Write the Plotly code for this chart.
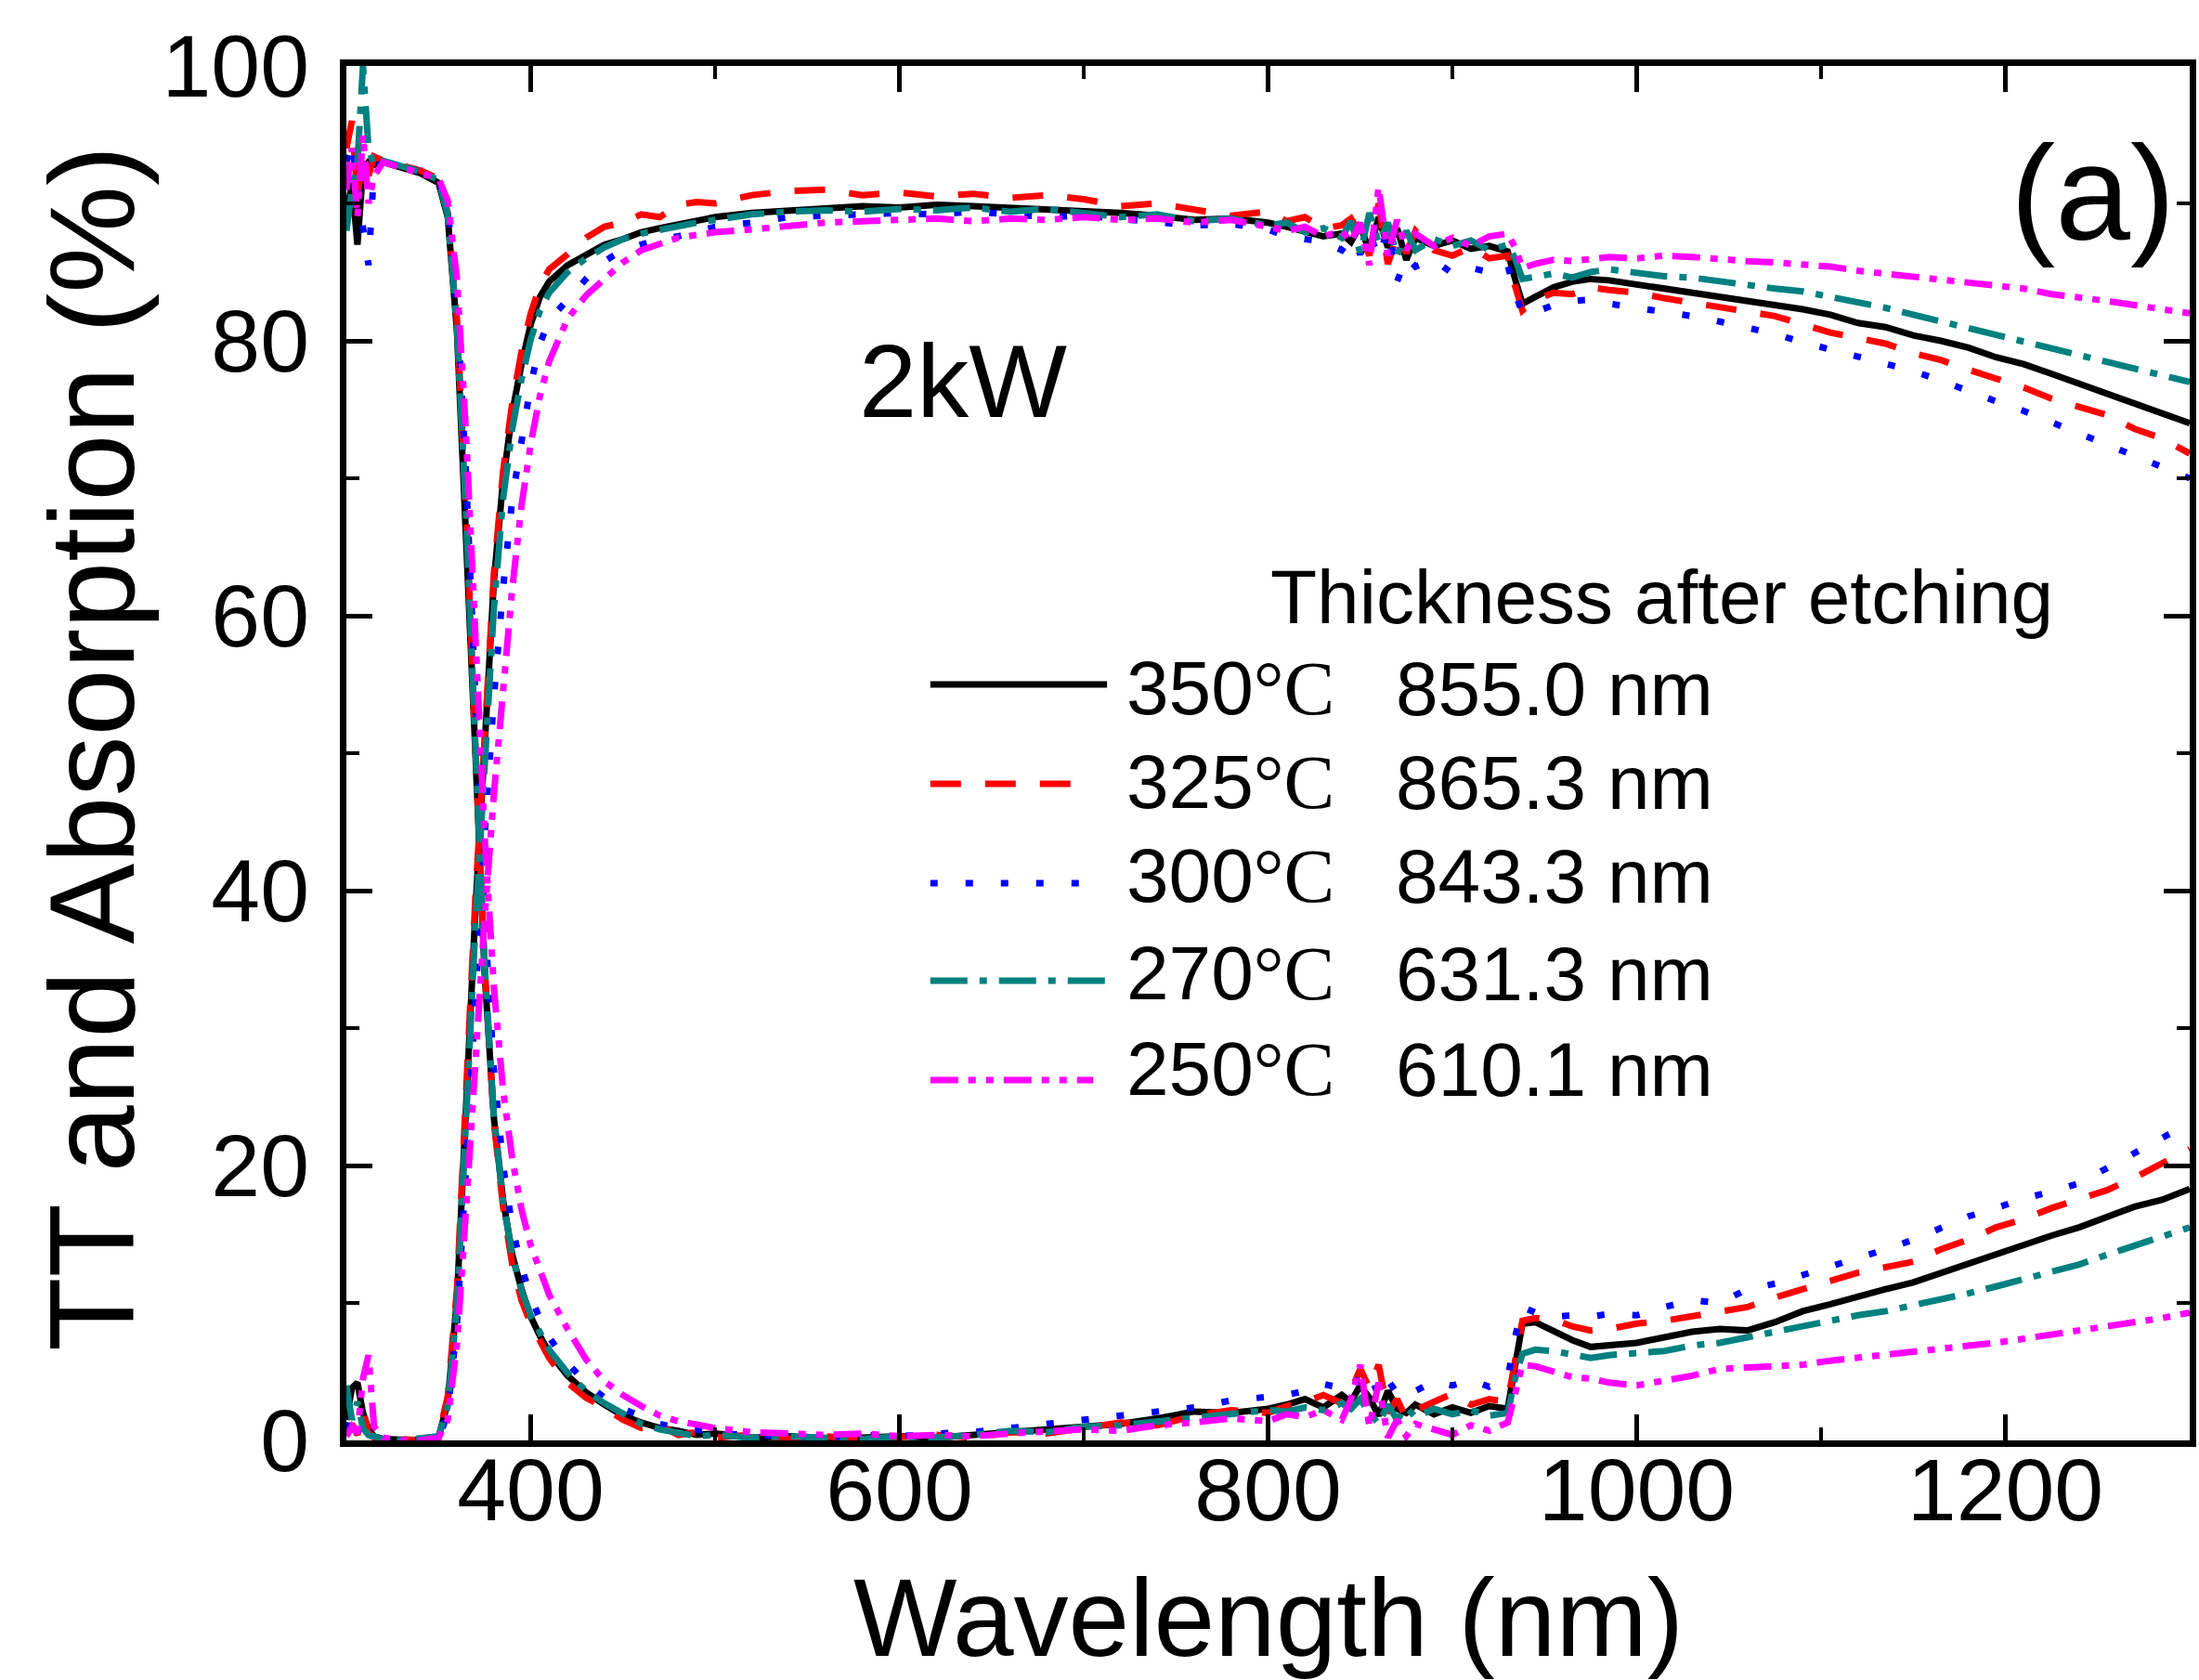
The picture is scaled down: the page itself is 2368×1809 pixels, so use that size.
import plotly.graph_objects as go

# Wavelength grid (nm) shared by every spectrum
wavelength = [300, 303, 306, 309, 312, 315, 320, 330, 340, 350,
              355, 360, 365, 370, 375, 380, 385, 390, 395, 400,
              405, 410, 420, 430, 440, 450, 460, 470, 480, 490,
              500, 520, 540, 560, 580, 600, 620, 640, 660, 680,
              700, 720, 740, 760, 780, 800, 810, 820, 830, 840,
              845, 850, 855, 860, 865, 870, 875, 880, 890, 900,
              910, 920, 930, 934, 938, 945, 955, 965, 975, 985,
              1000, 1015, 1030, 1045, 1060, 1075, 1090, 1105, 1120, 1135,
              1150, 1165, 1180, 1195, 1210, 1225, 1240, 1255, 1270, 1285, 1300]

# Total transmittance (%)
tt_350 = [1.5, 3.8, 4.2, 2.0, 0.8, 0.3, 0.1, 0.0, 0.0, 0.2,
          2.8, 10.3, 25.0, 38.6, 50.5, 62.5, 69.8, 74.8, 78.3, 81.2,
          83.2, 84.3, 85.5, 86.3, 87.0, 87.4, 87.9, 88.2, 88.5, 88.8,
          89.0, 89.3, 89.5, 89.6, 89.8, 89.7, 89.9, 89.8, 89.7, 89.6,
          89.5, 89.3, 89.1, 88.8, 88.9, 88.6, 88.3, 88.0, 87.6, 87.8,
          87.2, 88.4, 86.5, 89.0, 86.8, 88.2, 85.9, 87.5, 86.9, 87.3,
          86.7, 86.9, 86.5, 84.5, 82.7, 83.2, 83.9, 84.3, 84.5, 84.4,
          84.1, 83.9, 83.5, 83.3, 82.9, 82.7, 82.3, 81.9, 81.3, 81.0,
          80.4, 80.0, 79.5, 78.8, 78.3, 77.6, 76.9, 76.1, 75.4, 74.8, 74.0]
tt_325 = [0.5, 1.2, 0.4, 2.2, 0.5, 0.2, 0.0, 0.1, 0.0, 0.3,
          3.2, 11.0, 25.5, 39.5, 51.0, 63.0, 70.5, 75.5, 79.2, 82.0,
          84.0, 85.2, 86.3, 87.5, 88.3, 88.6, 89.2, 89.0, 89.9, 90.1,
          90.0, 90.6, 90.9, 91.0, 90.6, 90.8, 90.5, 90.7, 90.4, 90.6,
          90.3, 89.8, 90.0, 89.6, 89.1, 89.4, 88.7, 89.0, 88.2, 88.4,
          88.9, 87.8, 86.2, 90.0, 85.6, 87.6, 86.4, 88.0, 86.6, 86.2,
          86.8, 86.0, 86.2, 84.0, 82.2, 83.0, 83.5, 83.4, 83.9, 83.7,
          83.5, 83.1, 82.8, 82.5, 82.1, 81.8, 81.2, 80.6, 80.2, 79.8,
          79.1, 78.6, 77.9, 77.3, 76.6, 75.8, 75.2, 74.6, 73.6, 72.9, 71.8]
tt_300 = [0.8, 2.0, 0.6, 1.1, 0.3, 0.1, 0.0, 0.0, 0.1, 0.1,
          2.0, 8.5, 20.0, 33.0, 44.0, 54.0, 62.0, 68.5, 73.0, 76.8,
          79.8, 81.5, 83.0, 84.5, 85.8, 86.6, 87.0, 87.4, 87.6, 87.9,
          88.3, 88.6, 89.0, 89.1, 89.2, 89.3, 89.2, 89.4, 89.2, 89.0,
          89.1, 88.9, 88.6, 88.4, 88.5, 88.1, 87.6, 87.4, 87.2, 86.6,
          87.5, 86.3, 87.9, 86.0, 88.2, 84.3, 86.1, 85.4, 85.9, 84.9,
          85.3, 85.0, 85.5, 83.5, 82.0, 82.1, 82.6, 82.9, 83.0, 82.7,
          82.4, 82.2, 81.8, 81.4, 81.0, 80.5, 79.9, 79.4, 78.9, 78.4,
          77.8, 77.1, 76.3, 75.6, 74.9, 74.1, 73.2, 72.4, 71.6, 70.8, 70.0]
tt_270 = [4.0, 1.5, 2.8, 0.9, 0.4, 0.3, 0.1, 0.0, 0.1, 0.3,
          2.5, 9.8, 23.5, 37.5, 49.0, 60.5, 68.5, 73.6, 77.2, 80.1,
          82.2, 83.5, 85.0, 86.0, 86.8, 87.4, 87.8, 88.1, 88.4, 88.6,
          88.8, 89.2, 89.4, 89.5, 89.4, 89.6, 89.5, 89.7, 89.4, 89.6,
          89.3, 89.0, 89.2, 88.7, 88.9, 88.4, 88.6, 87.9, 88.2, 87.5,
          88.7, 86.4, 89.3, 87.1, 88.6, 86.2, 88.0, 86.6, 87.4, 86.9,
          87.3, 86.6, 87.0, 86.0, 84.5, 84.7, 84.9, 84.6, 85.0, 85.2,
          84.9, 84.7, 84.6, 84.3, 84.1, 83.8, 83.6, 83.2, 82.9, 82.4,
          81.9, 81.4, 80.9, 80.5, 80.0, 79.5, 79.0, 78.5, 78.0, 77.5, 77.0]
tt_250 = [0.3, 1.0, 0.5, 4.5, 6.2, 1.0, 0.2, 0.0, 0.0, 0.2,
          1.5, 7.0, 17.0, 28.0, 38.0, 47.0, 55.0, 62.0, 68.0, 72.5,
          76.0, 78.5, 81.6, 83.3, 84.5, 85.7, 86.6, 87.1, 87.5, 87.7,
          87.9, 88.1, 88.4, 88.6, 88.7, 88.8, 88.9, 88.7, 88.9, 88.8,
          89.0, 88.8, 88.9, 88.6, 88.8, 88.3, 88.0, 88.3, 87.6, 88.0,
          87.2, 88.6, 85.5, 91.2, 86.2, 88.8, 86.6, 87.8, 86.9, 87.5,
          86.9, 87.6, 87.8, 86.8, 85.3, 85.6, 85.9, 85.8, 86.0, 86.1,
          86.0, 86.2, 86.1, 85.9, 85.8, 85.7, 85.6, 85.4, 85.1, 84.9,
          84.7, 84.5, 84.3, 84.0, 83.8, 83.4, 83.2, 82.9, 82.6, 82.3, 82.0]

# Absorption (%)
ab_350 = [89.0, 91.5, 87.0, 92.5, 93.0, 92.8, 93.0, 92.6, 92.2, 91.5,
          89.0, 80.7, 66.0, 50.0, 34.0, 23.5, 17.5, 13.5, 11.0, 9.0,
          7.6, 6.4, 4.7, 3.5, 2.6, 1.8, 1.3, 0.9, 0.7, 0.4,
          0.5, 0.2, 0.3, 0.1, 0.2, 0.3, 0.2, 0.4, 0.5, 0.8,
          1.0, 1.2, 1.6, 2.1, 2.0, 2.3, 2.6, 3.0, 2.4, 3.3,
          2.8, 4.0, 3.1, 1.8, 3.6, 2.3, 2.0, 2.6, 1.9, 2.4,
          2.0, 2.5, 2.3, 5.5, 8.5, 8.6, 7.9, 7.3, 6.8, 6.9,
          7.1, 7.5, 7.9, 8.1, 8.0, 8.6, 9.4, 9.9, 10.5, 11.0,
          11.5, 12.2, 12.9, 13.6, 14.2, 14.9, 15.5, 16.2, 17.0, 17.5, 18.3]
ab_325 = [94.0, 96.0, 90.5, 93.5, 92.0, 93.4, 93.1, 92.7, 92.4, 91.8,
          89.3, 81.5, 67.5, 50.5, 34.5, 23.2, 17.0, 12.8, 10.2, 8.5,
          7.3, 6.0, 4.2, 3.1, 2.4, 1.5, 0.9, 1.1, 0.4, 0.6,
          0.2, 0.4, 0.1, 0.3, 0.1, 0.2, 0.4, 0.2, 0.6, 0.5,
          0.9, 1.3, 1.1, 1.8, 2.2, 2.0, 2.5, 2.8, 3.3, 2.7,
          3.6, 5.2, 3.8, 5.5, 2.0, 3.0, 1.6, 2.2, 2.8, 3.4,
          2.6, 3.0, 2.8, 6.0, 8.7, 8.9, 8.8, 8.3, 8.0, 8.1,
          8.5, 8.7, 9.0, 9.3, 9.7, 10.4, 11.0, 11.6, 12.2, 12.6,
          13.0, 13.9, 14.6, 15.5, 16.1, 16.9, 17.5, 18.2, 19.1, 20.1, 21.2]
ab_300 = [93.0, 94.5, 91.0, 88.5, 85.5, 92.5, 93.0, 92.7, 92.3, 91.6,
          89.6, 82.5, 70.0, 54.0, 38.0, 27.0, 20.0, 15.5, 12.6, 10.5,
          8.8, 7.5, 5.6, 4.2, 3.1, 2.3, 1.7, 1.2, 0.9, 0.8,
          0.5, 0.4, 0.3, 0.2, 0.4, 0.3, 0.5, 0.6, 0.9, 1.2,
          1.4, 1.7, 2.0, 2.4, 2.9, 3.1, 3.3, 3.6, 4.1, 3.8,
          4.6, 4.2, 5.0, 3.2, 4.4, 3.4, 3.9, 3.6, 4.3, 4.0,
          4.4, 3.9, 4.5, 7.5, 9.7, 9.3, 9.0, 9.1, 9.0, 9.2,
          9.1, 9.7, 10.2, 10.0, 11.0, 11.4, 12.0, 12.6, 13.3, 13.9,
          14.6, 15.4, 16.3, 16.9, 17.6, 18.1, 18.7, 19.8, 20.9, 22.0, 23.1]
ab_270 = [88.0, 91.0, 93.0, 100.0, 94.0, 92.8, 93.1, 92.7, 92.3, 91.7,
          89.2, 81.0, 67.2, 50.5, 34.6, 23.6, 17.4, 13.5, 10.9, 9.1,
          7.8, 6.6, 4.9, 3.6, 2.7, 1.9, 1.2, 0.8, 0.5, 0.3,
          0.4, 0.2, 0.3, 0.2, 0.1, 0.3, 0.2, 0.4, 0.7, 0.6,
          1.0, 1.1, 1.4, 1.7, 2.0, 2.2, 2.1, 2.4, 2.2, 2.7,
          2.3, 3.0, 2.0, 1.2, 2.6, 1.5, 2.4, 1.7, 2.3, 1.9,
          2.2, 1.8, 2.0, 4.5, 6.3, 6.6, 6.5, 6.2, 6.0, 6.2,
          6.3, 6.5, 6.9, 7.1, 7.5, 7.9, 8.4, 8.8, 9.1, 9.4,
          9.8, 10.2, 10.7, 11.2, 11.7, 12.3, 12.8, 13.5, 14.2, 14.8, 15.5]
ab_250 = [91.0, 94.0, 89.0, 95.0, 90.0, 92.0, 93.0, 92.6, 92.3, 91.8,
          90.2, 84.5, 73.0, 58.0, 44.0, 33.0, 25.5, 20.5, 16.8, 14.2,
          12.3, 10.6, 8.1, 5.9, 4.3, 3.3, 2.5, 1.8, 1.4, 1.1,
          0.9, 0.6, 0.5, 0.4, 0.5, 0.3, 0.4, 0.3, 0.5, 0.6,
          0.8, 0.7, 1.1, 1.3, 1.6, 1.4, 1.9, 1.7, 2.2, 1.5,
          3.0, 5.5, 1.0, 4.2, 0.2, 1.5, 0.3, 1.2, 0.8, 0.4,
          1.1, 0.7, 1.3, 3.5, 5.5, 5.4, 5.0, 4.6, 4.5, 4.2,
          4.0, 4.3, 4.7, 5.2, 5.3, 5.4, 5.5, 5.8, 6.0, 6.3,
          6.5, 6.7, 6.8, 7.1, 7.4, 7.7, 8.0, 8.3, 8.5, 8.9, 9.3]

temperatures = ["350", "325", "300", "270", "250"]
thicknesses = ["855.0 nm", "865.3 nm", "843.3 nm", "631.3 nm", "610.1 nm"]
tt_series = [tt_350, tt_325, tt_300, tt_270, tt_250]
ab_series = [ab_350, ab_325, ab_300, ab_270, ab_250]

colors = ["#000000", "#FF0000", "#0000FF", "#008080", "#FF00FF"]
dashes = ["solid", "33px,26px", "8px,30px", "40px,13px,8px,13px",
          "30px,11px,8px,11px,8px,11px"]
LW = 7

FONT = "Liberation Sans, Arial, sans-serif"
SERIF = "Liberation Serif, Times New Roman, serif"

fig = go.Figure()
for tt, ab, col, dsh, t in zip(tt_series, ab_series, colors, dashes, temperatures):
    for ys in (tt, ab):
        fig.add_trace(go.Scatter(
            x=wavelength, y=ys, mode="lines",
            line=dict(color=col, width=LW, dash=dsh),
            name=t + "°C", showlegend=False, hoverinfo="skip"))

# Plot area geometry (pixels)
W, H = 2368, 1809
ML, MR, MT, MB = 373, 3, 71, 258
pw = W - ML - MR
ph = H - MT - MB


def px(xp):
    return (xp - ML) / pw


def py(yp):
    return (H - MB - yp) / ph


annotations = []
shapes = []

# Hand-built legend
annotations.append(dict(
    x=px(1370), y=py(642), xref="paper", yref="paper", xanchor="left",
    yanchor="middle", showarrow=False, text="Thickness after etching",
    font=dict(family=FONT, size=82, color="black")))
line_rows = [737, 844, 951, 1056, 1163]
text_rows = [741, 842, 943, 1048, 1151]
line_ends = [1195, 1167, 1167, 1195, 1180]
for i in range(5):
    shapes.append(dict(
        type="line", xref="paper", yref="paper",
        x0=px(1004), x1=px(line_ends[i]), y0=py(line_rows[i]), y1=py(line_rows[i]),
        line=dict(color=colors[i], width=LW, dash=dashes[i])))
    annotations.append(dict(
        x=px(1214), y=py(text_rows[i]), xref="paper", yref="paper",
        xanchor="left", yanchor="middle", showarrow=False,
        text=temperatures[i] + "<span style='font-family:" + SERIF + "'>°C</span>",
        font=dict(family=FONT, size=82, color="black")))
    annotations.append(dict(
        x=px(1505), y=py(text_rows[i]), xref="paper", yref="paper",
        xanchor="left", yanchor="middle", showarrow=False,
        text=thicknesses[i],
        font=dict(family=FONT, size=82, color="black")))

# Panel labels
annotations.append(dict(
    x=px(1039), y=py(410), xref="paper", yref="paper", xanchor="center",
    yanchor="middle", showarrow=False, text="2kW",
    font=dict(family=FONT, size=112, color="black")))
annotations.append(dict(
    x=px(2260), y=py(208), xref="paper", yref="paper", xanchor="center",
    yanchor="middle", showarrow=False, text="(a)",
    font=dict(family=FONT, size=145, color="black")))

# Axis titles
annotations.append(dict(
    x=0.5, y=py(1742), xref="paper", yref="paper", xanchor="center",
    yanchor="middle", showarrow=False, text="Wavelength (nm)",
    font=dict(family=FONT, size=118, color="black")))
annotations.append(dict(
    x=px(98), y=py(806), xref="paper", yref="paper", xanchor="center",
    yanchor="middle", showarrow=False, text="TT and Absorption (%)",
    textangle=-90, font=dict(family=FONT, size=130, color="black")))

axis_common = dict(
    showline=True, linecolor="black", linewidth=7, mirror="ticks",
    ticks="inside", ticklen=28, tickwidth=5, tickcolor="black",
    showgrid=False, zeroline=False,
    tickfont=dict(family=FONT, size=95, color="black"),
)

fig.update_layout(
    width=W, height=H,
    margin=dict(l=ML, r=MR, t=MT, b=MB),
    paper_bgcolor="white", plot_bgcolor="white",
    showlegend=False,
    xaxis=dict(range=[300, 1300], tickmode="linear", tick0=400, dtick=200,
               minor=dict(dtick=100, tick0=300, ticks="inside", ticklen=14,
                          tickwidth=4, tickcolor="black"),
               ticklabelstandoff=-35, **axis_common),
    yaxis=dict(range=[0, 100], tickmode="linear", tick0=0, dtick=20,
               minor=dict(dtick=10, tick0=0, ticks="inside", ticklen=14,
                          tickwidth=4, tickcolor="black"),
               ticklabelstandoff=14, **axis_common),
    annotations=annotations,
    shapes=shapes,
)

fig.write_html("out.html")
